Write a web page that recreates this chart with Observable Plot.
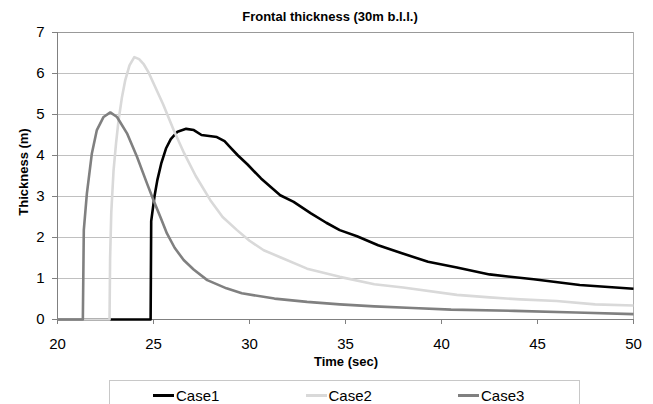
<!DOCTYPE html>
<html>
<head>
<meta charset="utf-8">
<script src="https://cdn.jsdelivr.net/npm/d3@7"></script>
<script src="https://cdn.jsdelivr.net/npm/@observablehq/plot@0.6"></script>
<style>
  html, body { margin: 0; padding: 0; background: #fff; overflow: hidden; }
  #wrap { position: relative; width: 653px; height: 404px; overflow: hidden; font-family: "Liberation Sans", Arial, sans-serif; }
  #wrap svg { position: absolute; left: 0; top: 0; }
  .abs { position: absolute; white-space: nowrap; }
  .title { font-weight: bold; font-size: 13px; line-height: 15px; }
  .axlab { font-weight: bold; font-size: 13px; line-height: 15px; }
  .legbox { border: 1px solid #c8c8c8; background: #fff; }
  .legtxt { font-size: 15px; line-height: 17px; color: #000; }
</style>
</head>
<body>
<div id="wrap"></div>
<script>
// ---- data ----
const seriesNames = ["Case1", "Case2", "Case3"];
const seriesColors = ["#000000", "#d9d9d9", "#808080"];
const xTicks = [20, 25, 30, 35, 40, 45, 50];
const yTicks = [0, 1, 2, 3, 4, 5, 6, 7];

const time1 = [20, 24.85, 24.88, 25.05, 25.2, 25.4, 25.65, 25.9, 26.25, 26.7, 27.1, 27.5, 27.8, 28.3, 28.7, 29.0, 29.4, 29.9, 30.6, 31.6, 32.3, 33.2, 34.0, 34.7, 35.6, 36.7, 37.9, 39.3, 40.8, 42.5, 44.8, 47.2, 50];
const case1 = [0, 0, 2.4, 3.0, 3.4, 3.8, 4.17, 4.4, 4.58, 4.65, 4.62, 4.5, 4.48, 4.45, 4.35, 4.2, 4.0, 3.78, 3.44, 3.03, 2.87, 2.59, 2.36, 2.18, 2.03, 1.81, 1.62, 1.41, 1.27, 1.10, 0.98, 0.84, 0.75];

const time2 = [20, 22.71, 22.74, 22.8, 22.92, 23.05, 23.18, 23.35, 23.53, 23.75, 24.0, 24.25, 24.5, 24.75, 25.0, 25.5, 26.05, 26.6, 27.2, 27.96, 28.6, 29.35, 30.0, 30.74, 31.6, 33.0, 34.7, 36.5, 38.0, 40.8, 42.5, 44.1, 46.0, 48.0, 50];
const case2 = [0, 0, 1.5, 2.6, 3.64, 4.3, 4.86, 5.4, 5.84, 6.2, 6.40, 6.35, 6.22, 6.02, 5.76, 5.25, 4.62, 4.05, 3.5, 2.91, 2.5, 2.18, 1.92, 1.69, 1.52, 1.24, 1.04, 0.86, 0.78, 0.6, 0.54, 0.49, 0.45, 0.37, 0.34];

const time3 = [20, 21.32, 21.37, 21.53, 21.79, 22.05, 22.4, 22.75, 23.1, 23.62, 24.14, 24.66, 25.0, 25.4, 25.7, 26.1, 26.57, 27.09, 27.8, 28.8, 29.6, 31.3, 33.0, 34.7, 36.5, 38.5, 40.5, 43.8, 47.0, 50];
const case3 = [0, 0, 2.18, 3.07, 4.05, 4.62, 4.94, 5.05, 4.94, 4.54, 3.97, 3.32, 2.91, 2.45, 2.10, 1.75, 1.45, 1.22, 0.96, 0.76, 0.64, 0.51, 0.43, 0.37, 0.32, 0.28, 0.24, 0.21, 0.17, 0.13];

const titleText = "Frontal thickness (30m b.l.l.)";
const xLabel = "Time (sec)";
const yLabel = "Thickness (m)";

// ---- build table ----
const times = [time1, time2, time3];
const vals = [case1, case2, case3];
const rows = [];
seriesNames.forEach((s, i) => {
  times[i].forEach((t, j) => rows.push({series: s, time: t, value: vals[i][j]}));
});

const chart = Plot.plot({
  width: 653,
  height: 404,
  marginLeft: 57,
  marginRight: 20,
  marginTop: 32,
  marginBottom: 85,
  x: {domain: [20, 50]},
  y: {domain: [0, 7]},
  color: {domain: seriesNames, range: seriesColors},
  style: {fontFamily: "'Liberation Sans', Arial, sans-serif", fontSize: "15px", color: "#000", background: "transparent"},
  marks: [
    Plot.gridY(yTicks.filter(d => d > 0 && d < 7), {stroke: "#c0c0c0", strokeOpacity: 1, strokeWidth: 1}),
    Plot.ruleY([7], {stroke: "#999999", strokeWidth: 1}),
    Plot.ruleX([50], {stroke: "#b0b0b0", strokeWidth: 1}),
    Plot.axisY(yTicks, {tickSize: 5, tickPadding: 8, label: null, stroke: "#808080", fontSize: 15}),
    Plot.axisX(xTicks, {tickSize: 5, tickPadding: 14, label: null, stroke: "#808080", fontSize: 15}),
    Plot.ruleX([20], {stroke: "#808080", strokeWidth: 1}),
    Plot.ruleY([0], {stroke: "#808080", strokeWidth: 1}),
    Plot.line(rows, {x: "time", y: "value", z: "series", stroke: "series", strokeWidth: 2.6, strokeLinejoin: "round", strokeLinecap: "butt"})
  ]
});

const wrap = document.getElementById("wrap");
wrap.appendChild(chart);

function addDiv(cls, text, css) {
  const d = document.createElement("div");
  d.className = "abs " + cls;
  if (text != null) d.textContent = text;
  Object.assign(d.style, css);
  wrap.appendChild(d);
  return d;
}

addDiv("title", titleText, {left: "330px", top: "9px", transform: "translateX(-50%)"});
addDiv("axlab", xLabel, {left: "346px", top: "354px", transform: "translateX(-50%)"});
addDiv("axlab", yLabel, {left: "23px", top: "172px", transform: "translate(-50%,-50%) rotate(-90deg)"});

// legend
addDiv("legbox", null, {left: "109px", top: "380px", width: "469px", height: "40px"});
const legX = [153, 305.5, 458];
seriesNames.forEach((s, i) => {
  addDiv("", null, {left: legX[i] + "px", top: "393.5px", width: "21px", height: "3px", background: seriesColors[i]});
  addDiv("legtxt", s, {left: (legX[i] + 23) + "px", top: "386.5px"});
});
</script>
</body>
</html>
